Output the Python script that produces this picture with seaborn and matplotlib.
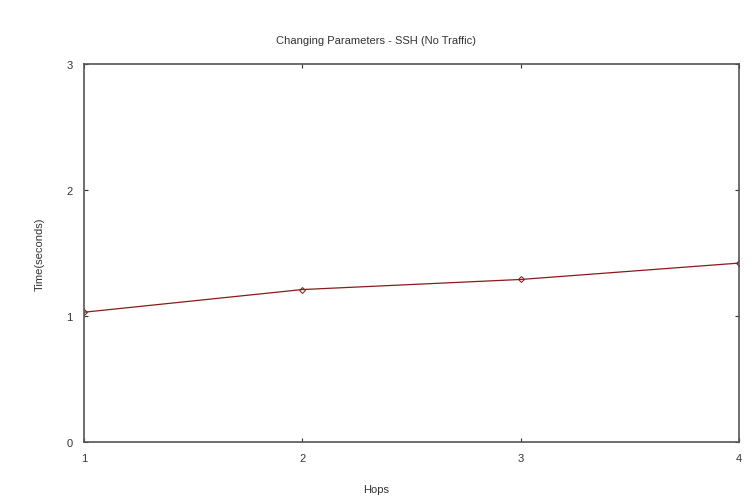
import pandas as pd
import seaborn as sns
import matplotlib
matplotlib.use('Agg')
import matplotlib.pyplot as plt

# values
hops = [1, 2, 3, 4]
time_seconds = [1.03, 1.21, 1.29, 1.42]

df = pd.DataFrame({'Hops': hops, 'Time': time_seconds})

sns.set_style('white')
plt.rcParams['font.family'] = ['Liberation Sans', 'DejaVu Sans']

fig = plt.figure(figsize=(7.56, 5.02), dpi=100)
ax = fig.add_axes([0.111, 0.1175, 0.8665, 0.753])

sns.lineplot(data=df, x='Hops', y='Time', ax=ax, color='#8b1a1a', linewidth=0.9,
             marker='D', markersize=3, markerfacecolor='none', markeredgecolor='#8b1a1a')

ax.set_xlim(1, 4)
ax.set_ylim(0, 3)
ax.set_xticks(hops)
ax.set_yticks([0, 1, 2, 3])
ax.tick_params(direction='in', length=3, labelsize=8, colors='#333333', pad=8)
ax.tick_params(top=True, right=True, bottom=True, left=True, labeltop=False, labelright=False)
for s in ax.spines.values():
    s.set_color('#555555')
    s.set_linewidth(1.2)

ax.set_xlabel('Hops', fontsize=8, color='#333333')
ax.xaxis.set_label_coords(0.446, -0.11)
ax.set_ylabel('Time(seconds)', fontsize=8, color='#333333', labelpad=16)
ax.set_title('Changing Parameters - SSH (No Traffic)', fontsize=8, color='#333333', pad=15, x=0.446)

fig.savefig('out.png', dpi=100)
